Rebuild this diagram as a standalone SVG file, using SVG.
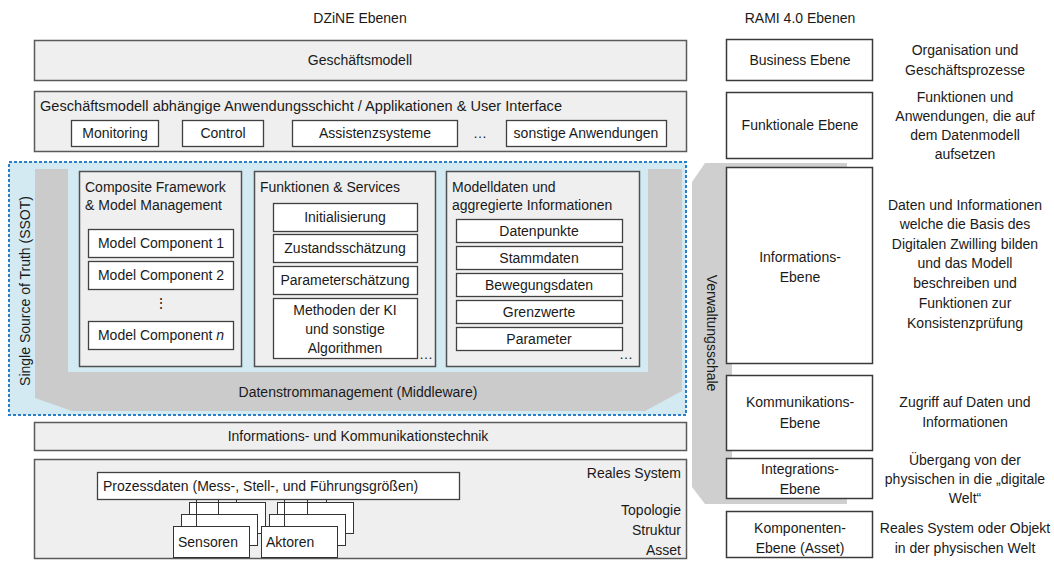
<svg xmlns="http://www.w3.org/2000/svg" width="1054" height="562" viewBox="0 0 1054 562">
<style>
text{font-family:"Liberation Sans",Arial,sans-serif;font-size:14px;fill:#1a1a1a}
.c{text-anchor:middle}
.r{text-anchor:end}
.layer{fill:#efefef;stroke:#5a5a5a;stroke-width:1.5}
.col{fill:#efefef;stroke:#505050;stroke-width:1.5}
.wb{fill:#fff;stroke:#404040;stroke-width:1.3}
.rami{fill:#fff;stroke:#3a3a3a;stroke-width:1.5}
.sb{fill:#fff;stroke:#333;stroke-width:1}
.conn{stroke:#333;stroke-width:1;fill:none}
</style>
<rect width="1054" height="562" fill="#fff"/>

<text x="360" y="23" class="c">DZiNE Ebenen</text>
<text x="800" y="23" class="c">RAMI 4.0 Ebenen</text>

<g id="geschaeftsmodell">
<rect class="layer" x="34.5" y="40.5" width="652" height="40"/>
<text x="360" y="65" class="c">Geschäftsmodell</text>
</g>

<g id="anwendungsschicht">
<rect class="layer" x="34.5" y="91.5" width="652" height="60"/>
<text x="40" y="111" textLength="522" lengthAdjust="spacingAndGlyphs">Geschäftsmodell abhängige Anwendungsschicht /  Applikationen &amp; User Interface</text>
<g id="monitoring"><rect class="wb" x="71.5" y="120.5" width="87" height="26"/><text x="115" y="138" class="c">Monitoring</text></g>
<g id="control"><rect class="wb" x="182.5" y="120.5" width="81" height="26"/><text x="223" y="138" class="c">Control</text></g>
<g id="assistenz"><rect class="wb" x="292.5" y="120.5" width="165" height="26"/><text x="375" y="138" class="c">Assistenzsysteme</text></g>
<text x="480" y="138" class="c">…</text>
<g id="sonstige"><rect class="wb" x="506.5" y="120.5" width="160" height="26"/><text x="586" y="138" class="c">sonstige Anwendungen</text></g>
</g>

<g id="verwaltungsschale">
<polygon fill="#cfcfcf" points="705,163 847,163 847,170 732,170 732,498 847,498 847,504 705,504 692,487 692,182"/>
<text transform="translate(712,333) rotate(90)" class="c" dy="5">Verwaltungsschale</text>
</g>

<g id="ssot">
<rect x="9" y="162" width="677" height="253" fill="#d3eaf2" stroke="#2a7fc9" stroke-width="2" stroke-dasharray="3,2"/>
<text transform="translate(25,291) rotate(-90)" class="c" dy="5">Single Source of Truth (SSOT)</text>
</g>

<g id="datenstrom">
<polygon fill="#cbcbcb" points="35,169 68,169 68,372 648,372 648,169 682,169 682,391 645,411 72,411 35,398"/>
<text x="358" y="397" class="c">Datenstrommanagement (Middleware)</text>
</g>

<g id="composite">
<rect class="col" x="79.5" y="171.5" width="162" height="195"/>
<text x="85" y="192">Composite Framework</text>
<text x="85" y="210">&amp; Model Management</text>
<g id="mc1"><rect class="wb" x="88.5" y="229.5" width="145" height="28"/><text x="161" y="248" class="c">Model Component 1</text></g>
<g id="mc2"><rect class="wb" x="88.5" y="261.5" width="145" height="28"/><text x="161" y="280" class="c">Model Component 2</text></g>
<text x="161" y="308" class="c">⋮</text>
<g id="mcn"><rect class="wb" x="88.5" y="321.5" width="145" height="28"/><text x="161" y="340" class="c">Model Component <tspan font-style="italic">n</tspan></text></g>
</g>

<g id="funktionen">
<rect class="col" x="254.5" y="171.5" width="181" height="195"/>
<text x="260" y="192">Funktionen &amp; Services</text>
<g id="init"><rect class="wb" x="273.5" y="203.5" width="144" height="28"/><text x="345" y="222" class="c">Initialisierung</text></g>
<g id="zustand"><rect class="wb" x="273.5" y="234.5" width="144" height="28"/><text x="345" y="253" class="c">Zustandsschätzung</text></g>
<g id="param"><rect class="wb" x="273.5" y="266.5" width="144" height="28"/><text x="345" y="285" class="c">Parameterschätzung</text></g>
<g id="methoden"><rect class="wb" x="273.5" y="298.5" width="144" height="60"/>
<text x="345" y="315" class="c">Methoden der KI</text>
<text x="345" y="334" class="c">und sonstige</text>
<text x="345" y="353" class="c">Algorithmen</text></g>
<text x="426" y="359" class="c">…</text>
</g>

<g id="modelldaten">
<rect class="col" x="446.5" y="171.5" width="193" height="195"/>
<text x="452" y="192">Modelldaten und</text>
<text x="452" y="210">aggregierte Informationen</text>
<g id="datenpunkte"><rect class="wb" x="456.5" y="219.5" width="166" height="23"/><text x="539" y="236" class="c">Datenpunkte</text></g>
<g id="stammdaten"><rect class="wb" x="456.5" y="246.5" width="166" height="23"/><text x="539" y="263" class="c">Stammdaten</text></g>
<g id="bewegungsdaten"><rect class="wb" x="456.5" y="273.5" width="166" height="23"/><text x="539" y="290" class="c">Bewegungsdaten</text></g>
<g id="grenzwerte"><rect class="wb" x="456.5" y="300.5" width="166" height="23"/><text x="539" y="317" class="c">Grenzwerte</text></g>
<g id="parameter"><rect class="wb" x="456.5" y="327.5" width="166" height="23"/><text x="539" y="344" class="c">Parameter</text></g>
<text x="626" y="359" class="c">…</text>
</g>

<g id="ikt">
<rect class="layer" x="34.5" y="422.5" width="652" height="28"/>
<text x="358" y="441" class="c">Informations- und Kommunikationstechnik</text>
</g>

<g id="reales-system">
<rect class="layer" x="34.5" y="459.5" width="652" height="99"/>
<text x="681" y="478" class="r">Reales System</text>
<text x="681" y="515" class="r">Topologie</text>
<text x="681" y="535" class="r">Struktur</text>
<text x="681" y="555" class="r">Asset</text>
</g>

<g id="prozessdaten">
<rect class="wb" x="97.5" y="472.5" width="362" height="27"/>
<text x="103" y="491">Prozessdaten (Mess-, Stell-, und Führungsgrößen)</text>
</g>

<g id="sensoren">
<rect class="sb" x="189.5" y="502.5" width="76" height="31"/>
<rect class="sb" x="181.5" y="514.5" width="76" height="31"/>
<rect class="sb" x="173.5" y="526.5" width="76" height="31"/>
<text x="178" y="547">Sensoren</text>
</g>

<g id="aktoren">
<rect class="sb" x="277.5" y="502.5" width="76" height="31"/>
<rect class="sb" x="269.5" y="514.5" width="76" height="31"/>
<rect class="sb" x="261.5" y="526.5" width="76" height="31"/>
<text x="266" y="547">Aktoren</text>
</g>

<g id="connectors">
<line class="conn" x1="196.5" y1="500" x2="196.5" y2="526"/>
<line class="conn" x1="218.5" y1="500" x2="218.5" y2="514"/>
<line class="conn" x1="236.5" y1="500" x2="236.5" y2="502"/>
<line class="conn" x1="284.5" y1="500" x2="284.5" y2="526"/>
<line class="conn" x1="307.5" y1="500" x2="307.5" y2="514"/>
<line class="conn" x1="326.5" y1="500" x2="326.5" y2="502"/>
</g>

<g id="business">
<rect class="rami" x="726.5" y="39.5" width="146" height="41"/>
<text x="800" y="65" class="c">Business Ebene</text>
</g>
<g id="funktional">
<rect class="rami" x="726.5" y="92.5" width="146" height="66"/>
<text x="800" y="130" class="c">Funktionale Ebene</text>
</g>
<g id="information">
<rect class="rami" x="726.5" y="167.5" width="146" height="196"/>
<text x="800" y="262" class="c">Informations-</text>
<text x="800" y="282" class="c">Ebene</text>
</g>
<g id="kommunikation">
<rect class="rami" x="726.5" y="375.5" width="146" height="75"/>
<text x="800" y="407" class="c">Kommunikations-</text>
<text x="800" y="428" class="c">Ebene</text>
</g>
<g id="integration">
<rect class="rami" x="726.5" y="458.5" width="146" height="40"/>
<text x="800" y="474" class="c">Integrations-</text>
<text x="800" y="494" class="c">Ebene</text>
</g>
<g id="komponenten">
<rect class="rami" x="726.5" y="511.5" width="146" height="46"/>
<text x="800" y="533" class="c">Komponenten-</text>
<text x="800" y="553" class="c">Ebene (Asset)</text>
</g>

<g id="beschreibungen">
<text x="965" y="55" class="c">Organisation und</text>
<text x="965" y="75" class="c">Geschäftsprozesse</text>
<text x="965" y="102" class="c">Funktionen und</text>
<text x="965" y="121" class="c">Anwendungen, die auf</text>
<text x="965" y="140" class="c">dem Datenmodell</text>
<text x="965" y="159" class="c">aufsetzen</text>
<text x="965" y="210" class="c">Daten und Informationen</text>
<text x="965" y="229" class="c">welche die Basis des</text>
<text x="965" y="249" class="c">Digitalen Zwilling bilden</text>
<text x="965" y="268" class="c">und das Modell</text>
<text x="965" y="288" class="c">beschreiben und</text>
<text x="965" y="308" class="c">Funktionen zur</text>
<text x="965" y="328" class="c">Konsistenzprüfung</text>
<text x="965" y="407" class="c">Zugriff auf Daten und</text>
<text x="965" y="427" class="c">Informationen</text>
<text x="965" y="465" class="c">Übergang von der</text>
<text x="965" y="484" class="c">physischen in die „digitale</text>
<text x="965" y="503" class="c">Welt“</text>
<text x="965" y="533" class="c">Reales System oder Objekt</text>
<text x="965" y="553" class="c">in der physischen Welt</text>
</g>
</svg>
